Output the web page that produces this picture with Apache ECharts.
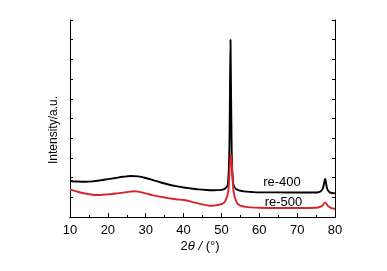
<!DOCTYPE html>
<html>
<head>
<meta charset="utf-8">
<script src="https://cdn.jsdelivr.net/npm/echarts@6/dist/echarts.min.js"></script>
<style>
  html, body { margin: 0; padding: 0; background: #fff; }
  #main { width: 387px; height: 271px; }
</style>
</head>
<body>
<div id="main"></div>
<script>
// re-400 (black)
var x400 = [10, 12, 14, 16, 18, 20, 22, 24, 26, 28, 30, 32, 34, 36, 38, 40, 42, 44, 46, 48, 50, 51, 51.7, 52.1, 52.4, 52.7, 53.1, 54, 56, 58, 60, 65, 70, 74, 76, 76.8, 77.4, 77.9, 78.6, 80];
var y400 = [1.83, 1.80, 1.79, 1.81, 1.86, 1.92, 1.98, 2.04, 2.08, 2.06, 1.98, 1.87, 1.75, 1.65, 1.57, 1.50, 1.45, 1.40, 1.37, 1.36, 1.38, 1.45, 1.65, 3.5, 9.0, 3.5, 1.70, 1.40, 1.30, 1.27, 1.25, 1.25, 1.24, 1.24, 1.28, 1.45, 1.93, 1.45, 1.25, 1.20];
// re-500 (red)
var x500 = [10, 12, 14, 16, 18, 20, 22, 24, 26, 27, 28, 30, 32, 34, 36, 38, 40, 42, 44, 46, 47, 48, 50, 51, 51.8, 52.2, 52.5, 52.8, 53.2, 54, 55, 57, 60, 65, 70, 75, 76.5, 77.4, 78.2, 79, 80];
var y500 = [1.40, 1.28, 1.19, 1.13, 1.12, 1.15, 1.19, 1.24, 1.29, 1.31, 1.29, 1.20, 1.10, 1.02, 0.96, 0.90, 0.86, 0.78, 0.68, 0.60, 0.57, 0.58, 0.65, 0.80, 1.30, 2.50, 3.20, 2.50, 1.30, 0.75, 0.58, 0.50, 0.47, 0.46, 0.46, 0.47, 0.55, 0.73, 0.55, 0.45, 0.41];
var seriesNames = ['re-400', 're-500'];
var labelPos = [[66.0, 1.75], [66.4, 0.74]];

function pairs(xs, ys) {
    var out = [];
    for (var i = 0; i < xs.length; i++) out.push([xs[i], ys[i]]);
    return out;
}

var FONT = 'Liberation Sans, Arial, sans-serif';
var axisLineStyle = { lineStyle: { color: '#000', width: 1 } };

var chart = echarts.init(document.getElementById('main'));
chart.setOption({
    animation: false,
    backgroundColor: '#fff',
    grid: { left: 70, right: 52, top: 20, bottom: 54 },
    xAxis: [{
        type: 'value', min: 10, max: 80, interval: 10,
        axisLine: axisLineStyle,
        axisTick: { inside: true, length: 4, lineStyle: { color: '#000' } },
        minorTick: { show: true, splitNumber: 2, length: 2, lineStyle: { color: '#000' } },
        splitLine: { show: false },
        axisLabel: { color: '#000', fontSize: 13, fontFamily: FONT, margin: 7 }
    }, {
        type: 'value', min: 10, max: 80, interval: 10, position: 'top',
        axisLine: axisLineStyle,
        axisTick: { show: false },
        splitLine: { show: false },
        axisLabel: { show: false }
    }],
    yAxis: [{
        type: 'value', min: 0, max: 10, interval: 1,
        axisLine: { show: true, lineStyle: { color: '#000', width: 1 } },
        axisTick: { show: true, inside: true, length: 3, lineStyle: { color: '#000' } },
        splitLine: { show: false },
        axisLabel: { show: false }
    }, {
        type: 'value', min: 0, max: 10, interval: 1, position: 'right',
        axisLine: { show: true, lineStyle: { color: '#000', width: 1 } },
        axisTick: { show: true, inside: true, length: 3, lineStyle: { color: '#000' } },
        splitLine: { show: false },
        axisLabel: { show: false }
    }],
    graphic: [{
        type: 'text', x: 200, y: 246,
        style: {
            text: '{a|2}{b|θ / }{a|(°)}',
            align: 'center', verticalAlign: 'middle',
            rich: {
                a: { fontSize: 13, fontFamily: FONT, fill: '#000' },
                b: { fontSize: 13, fontFamily: FONT, fontStyle: 'italic', fill: '#000' }
            }
        }
    }, {
        type: 'text', x: 54, y: 130, rotation: Math.PI / 2,
        style: {
            text: 'Intensity/a.u.', fontSize: 12, fontFamily: FONT, fill: '#000',
            align: 'center', verticalAlign: 'middle'
        }
    }],
    series: [{
        name: seriesNames[0], type: 'line', showSymbol: false, smooth: 0.3,
        data: pairs(x400, y400),
        lineStyle: { color: '#000', width: 1.9 },
        itemStyle: { color: '#000' },
        markPoint: {
            symbol: 'circle', symbolSize: 0,
            label: { show: true, formatter: seriesNames[0], color: '#000', fontSize: 13, fontFamily: FONT },
            data: [{ coord: labelPos[0] }]
        }
    }, {
        name: seriesNames[1], type: 'line', showSymbol: false, smooth: 0.3,
        data: pairs(x500, y500),
        lineStyle: { color: '#d7262b', width: 1.9 },
        itemStyle: { color: '#d7262b' },
        markPoint: {
            symbol: 'circle', symbolSize: 0,
            label: { show: true, formatter: seriesNames[1], color: '#000', fontSize: 13, fontFamily: FONT },
            data: [{ coord: labelPos[1] }]
        }
    }]
});
</script>
</body>
</html>
